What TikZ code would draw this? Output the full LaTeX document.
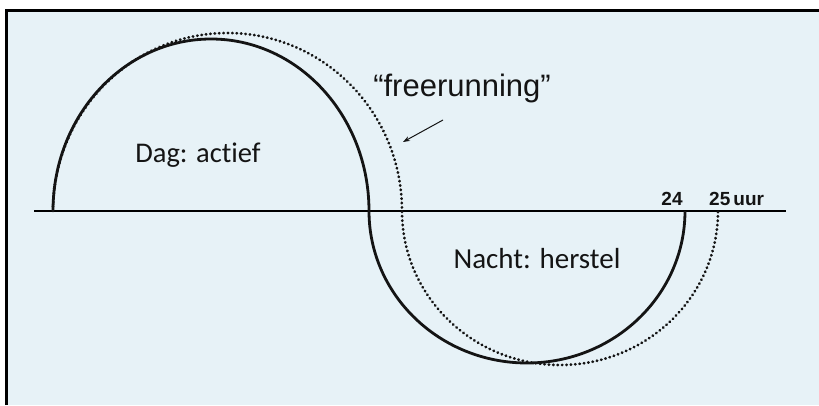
\documentclass[tikz,border=0pt]{standalone}
\usepackage{fontspec}
\setmainfont[Ligatures=NoCommon]{Carlito}
\newfontfamily\arialfont{Liberation Sans}
\usetikzlibrary{arrows.meta}
\definecolor{Sky}{HTML}{E7F2F7}
\definecolor{Ink}{HTML}{141414}

\begin{document}
\begin{tikzpicture}[x=1pt,y=1pt,every node/.style={text=Ink,inner sep=0pt},solidcurve/.style={line width=2.8pt,draw=Ink},dotcurve/.style={line width=2.8pt,draw=Ink,line cap=round,dash pattern=on 0.4pt off 4pt},hourlabel/.style={font=\arialfont\bfseries\fontsize{19}{19}\selectfont,anchor=base},pointer/.style={-{Stealth[length=7pt,width=5pt]},line width=1pt,draw=Ink}]
\useasboundingbox (0,0) rectangle (819,405);
\fill[white] (0,0) rectangle (819,405);
\fill[Sky] (6.5,0) rectangle (819,394.5);
\draw[line width=3pt] (6.5,0) -- (6.5,394.5) -- (819,394.5);

% time axis
\draw[line width=2.8pt] (34,194) -- (786,194);

% 24 hour rhythm and the longer freerunning one
\draw[solidcurve] (53,194) arc[start angle=180,end angle=0,x radius=158,y radius=172] arc[start angle=180,end angle=360,x radius=158,y radius=152];
\draw[dotcurve] (53,194) arc[start angle=180,end angle=0,x radius=174.5,y radius=178] arc[start angle=180,end angle=360,x radius=158,y radius=154];

\node[font=\fontsize{28.5}{30}\selectfont,anchor=base] (dag) at (198,243) {Dag: actief};
\node[font=\fontsize{29}{30}\selectfont,anchor=base] (nacht) at (537,137) {Nacht: herstel};
\node[font=\arialfont\fontsize{31}{32}\selectfont,anchor=base] (free) at (462,308) {“freerunning”};
\node[hourlabel] (h24) at (672,200) {24};
\node[hourlabel,anchor=base west] (h25) at (709,200) {25\,uur};

\coordinate (tail) at (443,285);
\coordinate (tip) at (403,263);
\draw[pointer] (tail) -- (tip);

\end{tikzpicture}
\end{document}
